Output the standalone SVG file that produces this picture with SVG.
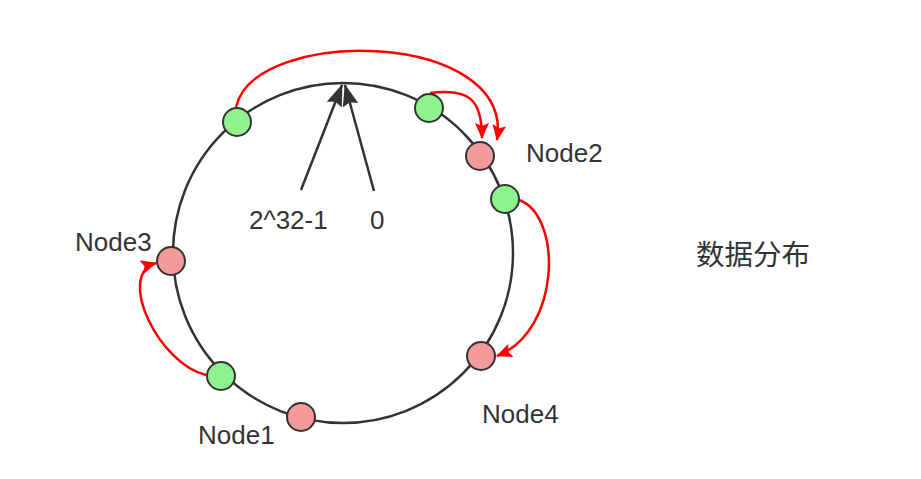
<svg xmlns="http://www.w3.org/2000/svg" width="921" height="479" viewBox="0 0 921 479">
<style>
  .ring { fill: none; stroke: #333; stroke-width: 2.5; }
  .data { fill: #8ef38e; stroke: #333; stroke-width: 2; }
  .node { fill: #f49a9a; stroke: #333; stroke-width: 2; }
  .lbl { font-family: "Liberation Sans", Arial, sans-serif; font-size: 26px; fill: #333; }
  .cjk { font-family: "Noto Sans CJK SC", "Liberation Sans", sans-serif; font-size: 28.5px; fill: #333; }
  .red { fill: none; stroke: #f00; stroke-width: 2.5; }
  .blk { fill: none; stroke: #333; stroke-width: 2.5; }
</style>
<defs>
  <marker id="redHead" viewBox="0 0 16 14" refX="15" refY="7" markerWidth="16" markerHeight="14" markerUnits="userSpaceOnUse" orient="auto">
    <path d="M0,0 L16,7 L0,14 L3,7 z" fill="#f00"/>
  </marker>
  <marker id="blkHead" viewBox="0 0 22 16" refX="21" refY="8" markerWidth="22" markerHeight="16" markerUnits="userSpaceOnUse" orient="auto">
    <path d="M0,0 L22,8 L0,16 L3,8 z" fill="#333"/>
  </marker>
</defs>
<rect width="921" height="479" fill="#fff"/>

<g id="ring">
  <circle class="ring" cx="343" cy="253" r="170"/>
</g>

<g id="connectors">
  <path class="blk" d="M301,190 L342,85" marker-end="url(#blkHead)"/>
  <path class="blk" d="M374,191 L345,85" marker-end="url(#blkHead)"/>
  <path class="red" d="M236,107 C255,25 515,30 497,140" marker-end="url(#redHead)"/>
  <path class="red" d="M430,93 C470,88 482,100 482,138" marker-end="url(#redHead)"/>
  <path class="red" d="M519,200 C562,215 562,330 497,356" marker-end="url(#redHead)"/>
  <path class="red" d="M206,375 C160,365 115,275 156,263" marker-end="url(#redHead)"/>
</g>

<g id="data1"><circle class="data" cx="237" cy="122" r="14"/></g>
<g id="data2"><circle class="data" cx="429" cy="108" r="14"/></g>
<g id="data3"><circle class="data" cx="505" cy="199" r="14"/></g>
<g id="data4"><circle class="data" cx="221" cy="376" r="14"/></g>

<g id="node1">
  <circle class="node" cx="301" cy="417" r="14"/>
  <text class="lbl" x="198" y="444">Node1</text>
</g>
<g id="node2">
  <circle class="node" cx="480" cy="156" r="14"/>
  <text class="lbl" x="526" y="162">Node2</text>
</g>
<g id="node3">
  <circle class="node" cx="171" cy="261" r="14"/>
  <text class="lbl" x="75" y="251">Node3</text>
</g>
<g id="node4">
  <circle class="node" cx="481" cy="356" r="14"/>
  <text class="lbl" x="482" y="423">Node4</text>
</g>

<g id="labels">
  <text class="lbl" x="249" y="229">2^32-1</text>
  <text class="lbl" x="370" y="229">0</text>
  <text class="cjk" x="696" y="265">数据分布</text>
</g>
</svg>
